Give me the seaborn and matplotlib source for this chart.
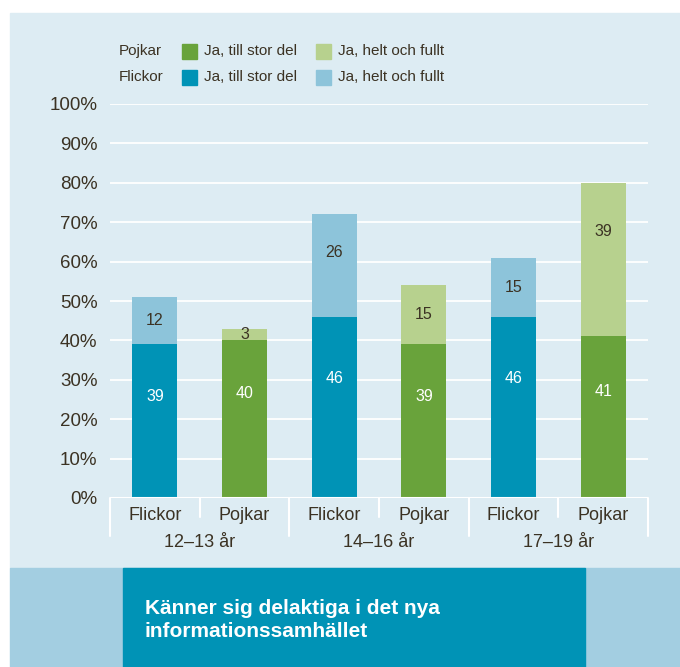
import numpy as np
import pandas as pd
import matplotlib
matplotlib.use('Agg')
import matplotlib.pyplot as plt
from matplotlib.patches import Rectangle
import seaborn as sns

# data
groups = ['12\u201313 år', '14\u201316 år', '17\u201319 år']
genders = ['Flickor', 'Pojkar']
stor_del = [39, 40, 46, 39, 46, 41]      # Ja, till stor del
helt_fullt = [12, 3, 26, 15, 15, 39]     # Ja, helt och fullt
yticks = [0, 10, 20, 30, 40, 50, 60, 70, 80, 90, 100]
title = 'Känner sig delaktiga i det nya\ninformationssamhället'

DARK_BLUE = '#0093b6'
LIGHT_BLUE = '#8dc4da'
GREEN = '#69a33b'
LIGHT_GREEN = '#b7d18e'
PANEL = '#ddecf3'
SIDE = '#a3cee1'
TEXT = '#3b3223'

rows = []
for gi, g in enumerate(groups):
    for gender in genders:
        i = len(rows)
        rows.append({'bar': f'{g}|{gender}', 'group': g, 'gender': gender,
                     'lower': stor_del[i], 'upper': helt_fullt[i],
                     'total': stor_del[i] + helt_fullt[i]})
df = pd.DataFrame(rows)

dark_pal = {r.bar: (DARK_BLUE if r.gender == 'Flickor' else GREEN) for r in df.itertuples()}
light_pal = {r.bar: (LIGHT_BLUE if r.gender == 'Flickor' else LIGHT_GREEN) for r in df.itertuples()}

sns.set_theme(style='white')
plt.rcParams['font.family'] = ['Liberation Sans', 'DejaVu Sans']

W, H = 680, 667
fig = plt.figure(figsize=(W / 100, H / 100), dpi=100)
fig.patch.set_facecolor('white')

def px(x0, y0, w, h):
    return [x0 / W, 1 - (y0 + h) / H, w / W, h / H]

# background panels
fig.patches.append(Rectangle((10 / W, 1 - 568 / H), 670 / W, 555 / H,
                             transform=fig.transFigure, color=PANEL, zorder=-2))
fig.patches.append(Rectangle((10 / W, 0), 670 / W, 99 / H,
                             transform=fig.transFigure, color=SIDE, zorder=-2))
fig.patches.append(Rectangle((123 / W, 0), 462 / W, 99 / H,
                             transform=fig.transFigure, color=DARK_BLUE, zorder=-1))

ax = fig.add_axes(px(110, 104, 538, 394))
ax.set_facecolor('none')
ax.set_zorder(2)

sns.barplot(data=df, x='bar', y='total', hue='bar', palette=light_pal,
            legend=False, width=0.5, saturation=1, linewidth=0, ax=ax, zorder=3)
sns.barplot(data=df, x='bar', y='lower', hue='bar', palette=dark_pal,
            legend=False, width=0.5, saturation=1, linewidth=0, ax=ax, zorder=3)

ax.set_ylim(0, 100)
ax.set_xlim(-0.5, len(df) - 0.5)
ax.set_yticks(yticks)
ax.set_yticklabels([f'{t}%' for t in yticks], fontsize=13.5, color=TEXT)
ax.tick_params(axis='y', length=0, pad=9)
ax.set_xticks([])
ax.set_xlabel('')
ax.set_ylabel('')
for s in ax.spines.values():
    s.set_visible(False)
for t in yticks[1:]:
    ax.axhline(t, color='white', lw=1.3, zorder=1)
ax.axhline(0, color='white', lw=1.5, zorder=4)

# segment labels (the original sets them a bit above the middle)
for i, r in df.iterrows():
    ax.text(i, r.lower * 0.66, str(r.lower), ha='center', va='center',
            color='white', fontsize=11.5, zorder=5)
    up_y = r.lower + r.upper / 2 + max(0, r.upper - 15) * 0.3
    ax.text(i, up_y, str(r.upper), ha='center', va='center',
            color=TEXT, fontsize=11.5, zorder=5)

# category axis with separators
trans = ax.get_xaxis_transform()
for i, r in df.iterrows():
    ax.text(i, -0.045, r.gender, transform=trans, ha='center', va='center',
            fontsize=13, color=TEXT, clip_on=False)
for k in range(len(df) + 1):
    depth = -0.097 if k % 2 == 0 else -0.049
    ax.plot([k - 0.5, k - 0.5], [0, depth], transform=trans, color='white',
            lw=1.5, clip_on=False, zorder=4)
for gi, g in enumerate(groups):
    ax.text(gi * 2 + 0.5, -0.114, g, transform=trans, ha='center', va='center',
            fontsize=13, color=TEXT, clip_on=False)

# legend
for row_y, label, c1, c2 in [(51, 'Pojkar', GREEN, LIGHT_GREEN),
                             (77, 'Flickor', DARK_BLUE, LIGHT_BLUE)]:
    fig.text(119 / W, 1 - row_y / H, label, ha='left', va='center',
             fontsize=11, color=TEXT)
    for x0, c, txt in [(182, c1, 'Ja, till stor del'), (316, c2, 'Ja, helt och fullt')]:
        fig.patches.append(Rectangle((x0 / W, 1 - (row_y + 7.5) / H), 15 / W, 15 / H,
                                     transform=fig.transFigure, color=c))
        fig.text((x0 + 22) / W, 1 - row_y / H, txt, ha='left', va='center',
                 fontsize=11, color=TEXT)

fig.text(145 / W, 1 - 620 / H, title, ha='left', va='center', fontsize=15,
         fontweight='bold', color='white', linespacing=1.25)

fig.savefig('out.png', dpi=100)
